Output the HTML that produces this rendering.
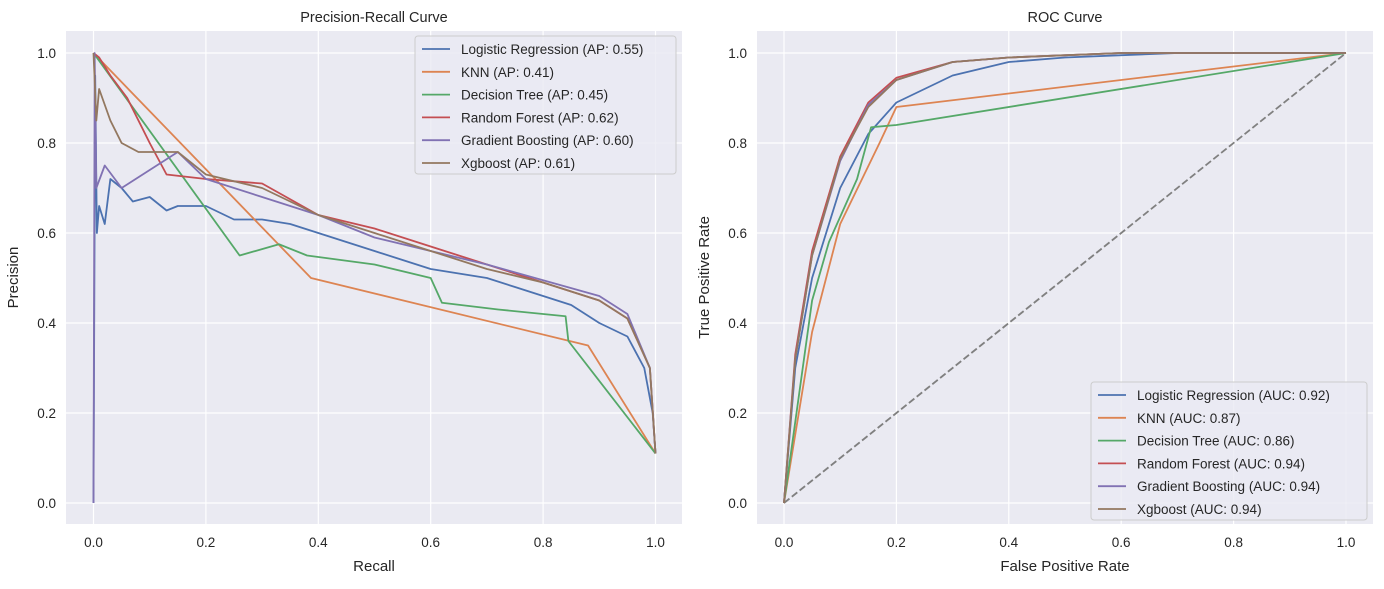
<!DOCTYPE html>
<html><head><meta charset="utf-8"><style>
body{margin:0;background:#fff;font-family:"Liberation Sans","DejaVu Sans",sans-serif}
svg text{font-family:"Liberation Sans","DejaVu Sans",sans-serif;fill:#262626}
</style></head><body>
<svg id="c" width="1384" height="584" xmlns="http://www.w3.org/2000/svg"></svg>
<script>
const prLabels=["Logistic Regression (AP: 0.55)","KNN (AP: 0.41)","Decision Tree (AP: 0.45)","Random Forest (AP: 0.62)","Gradient Boosting (AP: 0.60)","Xgboost (AP: 0.61)"];
const rocLabels=["Logistic Regression (AUC: 0.92)","KNN (AUC: 0.87)","Decision Tree (AUC: 0.86)","Random Forest (AUC: 0.94)","Gradient Boosting (AUC: 0.94)","Xgboost (AUC: 0.94)"];
const colors=["#4c72b0","#dd8452","#55a868","#c44e52","#8172b3","#937860"];
const ticks=[0,0.2,0.4,0.6,0.8,1.0];
const prLR=[[0,0],[0.003,0.95],[0.006,0.6],[0.01,0.66],[0.02,0.62],[0.03,0.72],[0.05,0.7],[0.07,0.67],[0.1,0.68],[0.13,0.65],[0.15,0.66],[0.2,0.66],[0.25,0.63],[0.3,0.63],[0.35,0.62],[0.4,0.6],[0.45,0.58],[0.5,0.56],[0.55,0.54],[0.6,0.52],[0.65,0.51],[0.7,0.5],[0.75,0.48],[0.8,0.46],[0.85,0.44],[0.9,0.4],[0.95,0.37],[0.98,0.3],[0.995,0.2],[1,0.11]];
const prKNN=[[0,1],[0.387,0.5],[0.88,0.35],[1,0.11]];
const prDT=[[0,1],[0.26,0.55],[0.33,0.575],[0.38,0.55],[0.5,0.53],[0.6,0.5],[0.62,0.445],[0.72,0.43],[0.84,0.415],[0.845,0.36],[1,0.11]];
const prRF=[[0,1],[0.01,0.99],[0.03,0.95],[0.06,0.9],[0.1,0.8],[0.13,0.73],[0.2,0.72],[0.3,0.71],[0.4,0.64],[0.5,0.61],[0.6,0.57],[0.7,0.53],[0.8,0.49],[0.9,0.45],[0.95,0.41],[0.99,0.3],[1,0.11]];
const prGB=[[0,0],[0.002,1],[0.005,0.7],[0.02,0.75],[0.05,0.7],[0.1,0.74],[0.15,0.78],[0.2,0.72],[0.3,0.68],[0.4,0.64],[0.5,0.59],[0.6,0.56],[0.7,0.53],[0.8,0.495],[0.9,0.46],[0.95,0.42],[0.99,0.3],[1,0.11]];
const prXGB=[[0,1],[0.005,0.85],[0.01,0.92],[0.03,0.85],[0.05,0.8],[0.08,0.78],[0.15,0.78],[0.2,0.73],[0.3,0.7],[0.4,0.64],[0.5,0.6],[0.6,0.56],[0.7,0.52],[0.8,0.49],[0.9,0.45],[0.95,0.41],[0.99,0.3],[1,0.11]];
const rocLR=[[0,0],[0.02,0.3],[0.05,0.5],[0.1,0.7],[0.15,0.82],[0.2,0.89],[0.3,0.95],[0.4,0.98],[0.5,0.99],[0.7,1],[1,1]];
const rocKNN=[[0,0],[0.05,0.38],[0.1,0.62],[0.17,0.8],[0.2,0.88],[1,1]];
const rocDT=[[0,0],[0.05,0.45],[0.08,0.58],[0.13,0.72],[0.155,0.835],[0.2,0.84],[1,1]];
const rocRF=[[0,0],[0.02,0.33],[0.05,0.56],[0.1,0.77],[0.15,0.89],[0.2,0.945],[0.3,0.98],[0.4,0.99],[0.6,1],[1,1]];
const rocGB=[[0,0],[0.02,0.32],[0.05,0.55],[0.1,0.76],[0.15,0.885],[0.2,0.94],[0.3,0.98],[0.4,0.99],[0.6,1],[1,1]];
const rocXGB=[[0,0],[0.02,0.32],[0.05,0.55],[0.1,0.765],[0.15,0.88],[0.2,0.94],[0.3,0.98],[0.4,0.99],[0.6,1],[1,1]];
const prSeries=[prLR,prKNN,prDT,prRF,prGB,prXGB];
const rocSeries=[rocLR,rocKNN,rocDT,rocRF,rocGB,rocXGB];
const NS="http://www.w3.org/2000/svg",svg=document.getElementById('c');
function mk(t,a,p){const e=document.createElementNS(NS,t);for(const k in a)e.setAttribute(k,a[k]);(p||svg).appendChild(e);return e;}
function panel(id,L,R,x0px,title,xl,yl,series,labels,legX,legY,legW,diag){
  const g=mk('g',{});
  
  
  const T=31,B=524,sx=v=>x0px+v*562,sy=v=>503-v*450;
  const bg=mk('rect',{x:L,y:T,width:R-L,height:B-T,fill:'#eaeaf2'},g);
  
  
  ticks.forEach(t=>{
    mk('line',{x1:sx(t),x2:sx(t),y1:T,y2:B,stroke:'#fff','stroke-width':1.2},g);
    mk('line',{x1:L,x2:R,y1:sy(t),y2:sy(t),stroke:'#fff','stroke-width':1.2},g);
    const a=mk('text',{x:sx(t),y:B+23,'text-anchor':'middle','font-size':13.5},g);a.textContent=t.toFixed(1);
    
    
    const b=mk('text',{x:L-10,y:sy(t)+5,'text-anchor':'end','font-size':13.5},g);b.textContent=t.toFixed(1);
    
    
  });
  if(diag){const d=mk('line',{x1:sx(0),y1:sy(0),x2:sx(1),y2:sy(1),stroke:'#808080','stroke-width':1.8,'stroke-dasharray':'7,3'},g);
    
    }
  series.forEach((s,i)=>{
    const p=mk('polyline',{points:s.map(q=>sx(q[0])+','+sy(q[1])).join(' '),fill:'none',stroke:colors[i],'stroke-width':1.8,'stroke-linejoin':'round'},g);
    
    
  });
  const tt=mk('text',{x:(L+R)/2,y:22,'text-anchor':'middle','font-size':14.5},g);tt.textContent=title;
  
  
  const xt=mk('text',{x:(L+R)/2,y:571,'text-anchor':'middle','font-size':15},g);xt.textContent=xl;
  
  
  const yx=L-48;
  const yt=mk('text',{x:yx,y:(T+B)/2,'text-anchor':'middle','font-size':15,transform:`rotate(-90 ${yx} ${(T+B)/2})`},g);yt.textContent=yl;
  
  
  const lg=mk('g',{},g);
  
  
  mk('rect',{x:legX,y:legY,width:legW,height:138,rx:3,fill:'#eaeaf2','fill-opacity':0.8,stroke:'#ccc'},lg);
  labels.forEach((l,i)=>{
    const y=legY+13+i*22.8;
    const e=mk('g',{},lg);
    
    
    mk('line',{x1:legX+7,x2:legX+35,y1:y,y2:y,stroke:colors[i],'stroke-width':1.8},e);
    const t=mk('text',{x:legX+46,y:y+5,'font-size':13.5},e);t.textContent=l;
  });
}
panel('pr-chart',66,682,93.5,'Precision-Recall Curve','Recall','Precision',prSeries,prLabels,415,36,261,false);
panel('roc-chart',757,1373,784,'ROC Curve','False Positive Rate','True Positive Rate',rocSeries,rocLabels,1091,382,276,true);
</script>
</body></html>
